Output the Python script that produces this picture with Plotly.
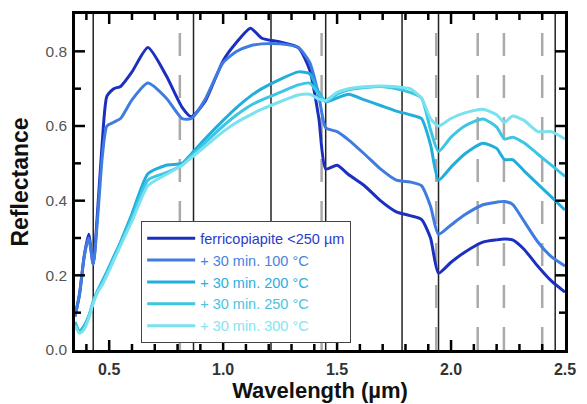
import plotly.graph_objects as go

# ---- data ----
wavelength = [0.35, 0.37, 0.39, 0.41, 0.43, 0.45, 0.47, 0.49, 0.52, 0.55, 0.60, 0.67,
              0.75, 0.82, 0.86, 0.92, 1.00, 1.06, 1.12, 1.17, 1.25, 1.33, 1.38, 1.42,
              1.45, 1.50, 1.55, 1.62, 1.69, 1.76, 1.82, 1.87, 1.91, 1.945, 2.00, 2.06,
              2.14, 2.20, 2.235, 2.27, 2.32, 2.38, 2.44, 2.50]

refl_fcp = [0.09, 0.15, 0.25, 0.31, 0.23, 0.38, 0.56, 0.68, 0.70, 0.706, 0.745, 0.81,
            0.735, 0.65, 0.625, 0.665, 0.775, 0.825, 0.862, 0.835, 0.825, 0.81, 0.75, 0.62,
            0.485, 0.495, 0.47, 0.44, 0.40, 0.37, 0.36, 0.35, 0.30, 0.206, 0.235, 0.262,
            0.289, 0.295, 0.297, 0.295, 0.27, 0.225, 0.185, 0.155]

refl_100 = [0.09, 0.15, 0.25, 0.30, 0.23, 0.36, 0.52, 0.60, 0.61, 0.62, 0.67, 0.715,
            0.675, 0.62, 0.62, 0.67, 0.77, 0.80, 0.815, 0.82, 0.82, 0.81, 0.77, 0.68,
            0.595, 0.585, 0.563, 0.525, 0.485, 0.455, 0.45, 0.44, 0.385, 0.31, 0.335, 0.362,
            0.389, 0.396, 0.398, 0.39, 0.345, 0.29, 0.25, 0.225]

refl_200 = [0.075, 0.05, 0.065, 0.09, 0.13, 0.16, 0.185, 0.21, 0.25, 0.29, 0.365, 0.472,
            0.495, 0.50, 0.525, 0.565, 0.615, 0.65, 0.68, 0.70, 0.725, 0.745, 0.74, 0.69,
            0.665, 0.675, 0.685, 0.67, 0.655, 0.64, 0.63, 0.62, 0.55, 0.455, 0.49, 0.525,
            0.554, 0.54, 0.51, 0.51, 0.48, 0.445, 0.41, 0.375]

refl_250 = [0.07, 0.047, 0.06, 0.088, 0.128, 0.16, 0.18, 0.205, 0.245, 0.285, 0.355, 0.455,
            0.475, 0.495, 0.52, 0.555, 0.60, 0.63, 0.655, 0.67, 0.69, 0.71, 0.715, 0.685,
            0.665, 0.685, 0.697, 0.703, 0.706, 0.70, 0.69, 0.675, 0.59, 0.532, 0.57, 0.60,
            0.619, 0.597, 0.565, 0.57, 0.555, 0.525, 0.495, 0.465]

refl_300 = [0.065, 0.045, 0.055, 0.085, 0.125, 0.155, 0.175, 0.20, 0.24, 0.28, 0.345, 0.44,
            0.47, 0.495, 0.515, 0.545, 0.585, 0.61, 0.63, 0.645, 0.665, 0.683, 0.685, 0.672,
            0.668, 0.69, 0.70, 0.705, 0.707, 0.705, 0.70, 0.675, 0.62, 0.60, 0.62, 0.635,
            0.645, 0.63, 0.61, 0.627, 0.615, 0.585, 0.585, 0.565]

series_names = ["ferricopiapite <250 µm", "+ 30 min. 100 °C", "+ 30 min. 200 °C",
                "+ 30 min. 250 °C", "+ 30 min. 300 °C"]
series_values = [refl_fcp, refl_100, refl_200, refl_250, refl_300]
line_colors = ["#1c30c0", "#3f7be0", "#22aedc", "#3cc6e4", "#78e2ee"]
text_colors = ["#2a3cc8", "#4a82e0", "#2eaedc", "#48c4e2", "#86e4ee"]

solid_lines = [0.43, 0.87, 1.21, 1.45, 1.785, 1.945, 2.457]
dashed_lines = [0.81, 1.432, 1.935, 2.117, 2.232, 2.40]

x_major = [0.5, 1.0, 1.5, 2.0, 2.5]
x_tick_labels = ["0.5", "1.0", "1.5", "2.0", "2.5"]
y_major = [0.0, 0.2, 0.4, 0.6, 0.8]
y_tick_labels = ["0.0", "0.2", "0.4", "0.6", "0.8"]

x_all = [round(0.4 + 0.1 * i, 1) for i in range(21)]   # 0.4 .. 2.4
y_all = [round(0.1 * i, 1) for i in range(1, 9)]       # 0.1 .. 0.8

fig = go.Figure()
for name, vals, lc, tc in zip(series_names, series_values, line_colors, text_colors):
    fig.add_trace(go.Scatter(
        x=wavelength, y=vals, mode="lines",
        name=f"<span style='color:{tc}'>{name}</span>",
        line=dict(color=lc, width=3, shape="spline", smoothing=0.6),
    ))

shapes = []
for xv in solid_lines:
    shapes.append(dict(type="line", xref="x", yref="paper", x0=xv, x1=xv, y0=0, y1=1,
                       line=dict(color="#222222", width=1.5), layer="below"))
for xv in dashed_lines:
    shapes.append(dict(type="line", xref="x", yref="paper", x0=xv, x1=xv, y0=0, y1=1,
                       line=dict(color="#aaaaaa", width=2.5, dash="23px,19px"), layer="below"))

# inward tick marks on all four sides (major longer than minor)
tick_line = dict(color="black", width=2.5)
for xv in x_all:
    L = 10 if any(abs(xv - m) < 1e-9 for m in x_major) else 6
    shapes.append(dict(type="line", xref="x", yref="paper", ysizemode="pixel", yanchor=0,
                       x0=xv, x1=xv, y0=0, y1=L, line=tick_line, layer="above"))
    shapes.append(dict(type="line", xref="x", yref="paper", ysizemode="pixel", yanchor=1,
                       x0=xv, x1=xv, y0=0, y1=-L, line=tick_line, layer="above"))
for yv in y_all:
    L = 10 if any(abs(yv - m) < 1e-9 for m in y_major) else 6
    shapes.append(dict(type="line", yref="y", xref="paper", xsizemode="pixel", xanchor=0,
                       y0=yv, y1=yv, x0=0, x1=L, line=tick_line, layer="above"))
    shapes.append(dict(type="line", yref="y", xref="paper", xsizemode="pixel", xanchor=1,
                       y0=yv, y1=yv, x0=0, x1=-L, line=tick_line, layer="above"))

fig.update_layout(
    width=587, height=404,
    margin=dict(l=75, r=17, t=11, b=48),
    paper_bgcolor="white", plot_bgcolor="white",
    font=dict(family="Arial, Liberation Sans, sans-serif", color="#222"),
    shapes=shapes,
    showlegend=True,
    legend=dict(
        x=0.135, y=0.383, xanchor="left", yanchor="top",
        bgcolor="white", bordercolor="#444", borderwidth=1,
        font=dict(size=14.5, family="Arial, Liberation Sans, sans-serif"),
        itemwidth=48,
    ),
    xaxis=dict(
        range=[0.35, 2.5], tickmode="array", tickvals=x_major, ticktext=x_tick_labels,
        ticks="",
        showline=True, linecolor="black", linewidth=2.5, mirror=True,
        showgrid=False, zeroline=False,
        tickfont=dict(size=16, color="#333", weight="bold"),
        ticklabelstandoff=3,
        title=dict(text="<b>Wavelength (µm)</b>", font=dict(size=22, color="#111"), standoff=0),
    ),
    yaxis=dict(
        range=[0, 0.9], tickmode="array", tickvals=y_major, ticktext=y_tick_labels,
        ticks="",
        showline=True, linecolor="black", linewidth=2.5, mirror=True,
        showgrid=False, zeroline=False,
        tickfont=dict(size=15.5, color="#555"),
        ticklabelstandoff=2,
        title=dict(text="<b>Reflectance</b>", font=dict(size=23, color="#111"), standoff=11),
    ),
)

fig.write_html("out.html", config={"displayModeBar": False},
               post_script="document.body.style.margin='0';document.body.style.overflow='hidden';")
